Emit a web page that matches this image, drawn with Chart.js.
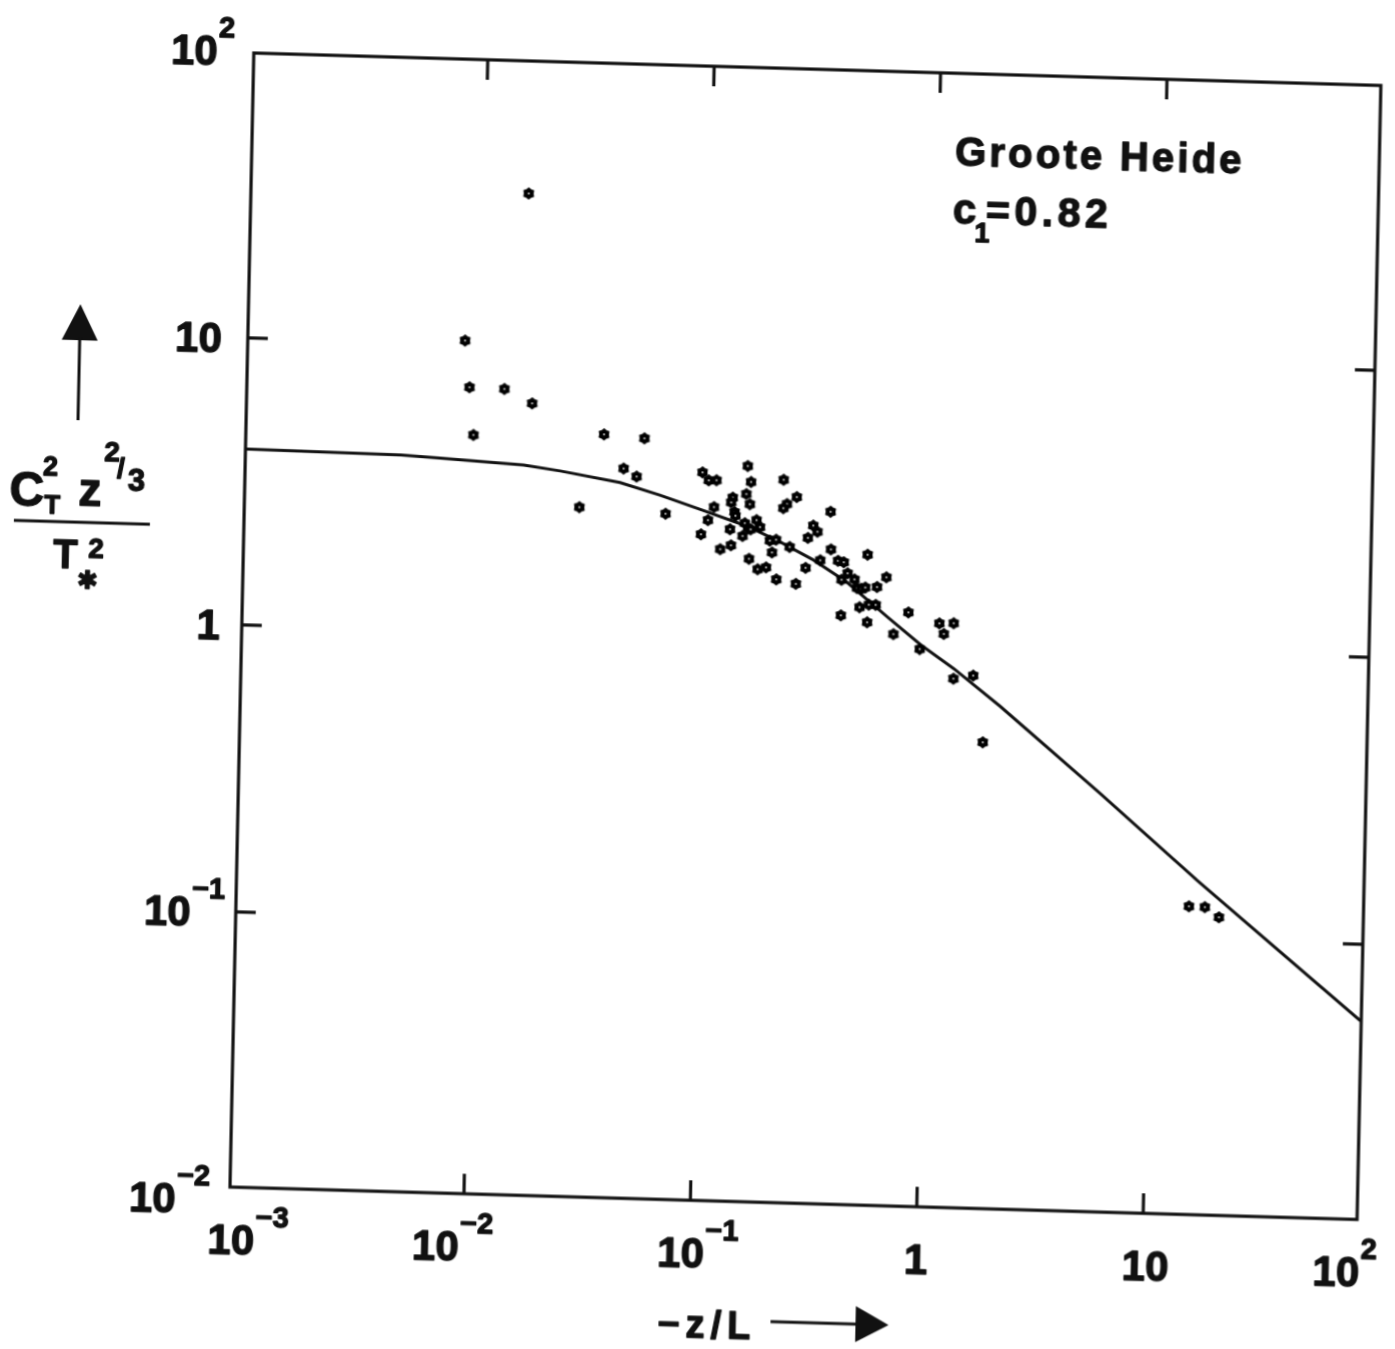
<!DOCTYPE html>
<html><head><meta charset="utf-8">
<script src="https://cdn.jsdelivr.net/npm/chart.js@4/dist/chart.umd.min.js"></script>
<style>
html,body{margin:0;padding:0;background:#fff;width:1395px;height:1349px;overflow:hidden;}
#wrap{position:absolute;left:-40px;top:0;width:1435px;height:1349px;transform-origin:270px 1187px;transform:matrix(1,0.0288,-0.021,1,0,0);}
canvas{display:block;}
</style></head><body>
<div id="wrap"><canvas id="c" width="1435" height="1349"></canvas></div>
<script>
// ---- data ----
const pointX = [0.0156,0.00843,0.0089,0.0127,0.0169,0.00936,0.0353,0.0533,0.0434,0.0496,0.0279,0.0671,
 0.0969,0.1034,0.1119,0.1533,0.1589,0.1519,0.1578,0.1324,0.1305,0.1097,0.1352,0.1366,0.1034,0.1296,0.1694,
 0.1505,0.1556,0.1598,0.1757,0.0966,0.1474,0.2213,0.2539,0.2302,0.2219,0.3591,0.302,0.3155,0.2866,0.1947,
 0.2075,0.2385,0.1179,0.1313,0.1997,0.3634,0.3266,0.3915,0.4153,0.1582,0.173,0.1884,0.2818,0.4325,0.4645,
 0.407,0.2097,0.2559,0.4775,0.4988,0.5195,0.528,0.6418,0.585,0.4917,0.5405,0.5792,0.4074,0.5328,0.8087,
 0.6976,1.111,1.285,1.164,0.9144,1.296,1.584,1.771,14.9,17.53,20.26];
const pointY = [34.0,10.3,7.09,7.05,6.32,4.84,5.01,4.90,3.83,3.60,2.78,2.69,
 3.78,3.55,3.56,4.02,3.54,3.21,2.96,3.11,2.99,2.87,2.77,2.69,2.58,2.41,2.61,
 2.54,2.44,2.42,2.47,2.30,2.29,3.63,3.17,2.99,2.89,2.84,2.53,2.41,2.29,2.22,
 2.24,2.12,2.05,2.12,2.02,2.10,1.92,1.92,1.90,1.91,1.76,1.79,1.80,1.74,1.66,
 1.65,1.63,1.58,1.55,1.54,1.56,2.03,1.70,1.57,1.33,1.36,1.36,1.24,1.18,1.29,
 1.08,1.19,1.195,1.094,0.964,0.766,0.789,0.463,0.1304,0.130,0.1202];
const curveX = [0.000926,0.0016,0.0045,0.0067,0.0157,0.0228,0.042,0.063,0.095,0.154,0.217,0.305,0.43,0.652,0.92,1.30,2.10,5.92,16.1,87.5];
const curveY = [4.10,4.09,4.05,3.99,3.85,3.70,3.42,3.12,2.81,2.48,2.20,1.92,1.62,1.24,1.00,0.83,0.62,0.315,0.161,0.0541];
const X_MIN = 9.26e-4, X_MAX = 88, Y_MIN = 0.0110, Y_MAX = 98.4;
const xTickValues = [1e-2,1e-1,1,10];
const yTickValues = [1e-1,1,10];
const xLabelValues = [1e-3,1e-2,1e-1,1,10,100];
const xLabelBase = ['10','10','10','1','10','10'];
const xLabelExp = ['\u22123','\u22122','\u22121','','','2'];
const yLabelValues = [100,10,1,0.1,0.01];
const yLabelBase = ['10','10','1','10','10'];
const yLabelExp = ['2','','','\u22121','\u22122'];
const siteName = 'Groote Heide';
const coefName = 'c', coefSub = '1', coefValue = '=0.82';

// ---- styling ----
const INK = '#111';
const FONT = '"Liberation Sans", Arial, Helvetica, sans-serif';
const xLabelShift = [-5.6,-27.5,-8.7,0,3,-32.6];
const yLabelRight = [-19,-26,-22,-11,-20];

function makeMarker(){
  const c=document.createElement('canvas'); c.width=14; c.height=14;
  const g=c.getContext('2d'); g.translate(7,7);
  g.beginPath();
  for(let i=0;i<12;i++){const r=i%2?4.9:6.3; const a=Math.PI/6*i-Math.PI/2; g.lineTo(r*Math.cos(a),r*Math.sin(a));}
  g.closePath(); g.fillStyle='#000'; g.fill();
  g.beginPath(); g.arc(0,0,0.9,0,Math.PI*2); g.fillStyle='#fff'; g.fill();
  return c;
}

function txt(ctx, s, x, y, size, opts={}){
  ctx.font = 'bold '+size+'px '+(opts.family||FONT);
  ctx.textAlign = opts.align||'left';
  ctx.textBaseline = opts.baseline||'alphabetic';
  ctx.letterSpacing = (opts.ls||0)+'px';
  ctx.fillText(s, x, y);
  ctx.lineWidth = opts.sw===undefined ? 1.3 : opts.sw;
  ctx.lineJoin = 'round';
  if(ctx.lineWidth>0) ctx.strokeText(s, x, y);
  ctx.letterSpacing = '0px';
}
function width(ctx, s, size){ ctx.font='bold '+size+'px '+FONT; ctx.letterSpacing='0px'; return ctx.measureText(s).width; }

function drawPow(ctx, x, y, base, exp, mode){
  const wb = width(ctx, base, 42);
  const we = exp ? width(ctx, exp, 29) : 0;
  const bx = mode==='right' ? x - wb - (exp ? we+1 : 0) : x - wb/2;
  txt(ctx, base, bx, y, 42);
  if(exp) txt(ctx, exp, bx+wb+1, y-28, 29);
}

const framePlugin = {
  id:'frame',
  beforeDatasetsDraw(chart){
    const {ctx, chartArea:a, scales:{x, y}} = chart;
    ctx.save();
    ctx.strokeStyle = INK; ctx.lineWidth = 3.2; ctx.lineCap='butt';
    ctx.strokeRect(a.left, a.top, a.right-a.left, a.bottom-a.top);
    ctx.beginPath();
    xTickValues.forEach(v=>{ const px=x.getPixelForValue(v);
      ctx.moveTo(px,a.bottom); ctx.lineTo(px,a.bottom-20);
      ctx.moveTo(px,a.top); ctx.lineTo(px,a.top+20); });
    yTickValues.forEach(v=>{ const py=y.getPixelForValue(v);
      ctx.moveTo(a.left,py); ctx.lineTo(a.left+20,py);
      ctx.moveTo(a.right,py); ctx.lineTo(a.right-20,py); });
    ctx.stroke();
    ctx.restore();
  },
  afterDraw(chart){
    const {ctx, chartArea:a, scales:{x, y}} = chart;
    ctx.save(); ctx.fillStyle = INK; ctx.strokeStyle = INK;
    // tick labels
    xLabelValues.forEach((v,i)=>drawPow(ctx, x.getPixelForValue(v)+xLabelShift[i], a.bottom+67, xLabelBase[i], xLabelExp[i], 'center'));
    yLabelValues.forEach((v,i)=>drawPow(ctx, a.left+yLabelRight[i], y.getPixelForValue(v)+15, yLabelBase[i], yLabelExp[i], 'right'));
    const L = a.left, B = a.bottom;
    // y title arrow
    const ax = L-168;
    ctx.beginPath(); ctx.moveTo(ax,B-878); ctx.lineTo(ax-18,B-842); ctx.lineTo(ax+18,B-842); ctx.closePath(); ctx.fill();
    ctx.lineWidth=3; ctx.beginPath(); ctx.moveTo(ax,B-845); ctx.lineTo(ax,B-762); ctx.stroke();
    // y title fraction
    txt(ctx,'C',L-235,B-675,48);
    txt(ctx,'2',L-202,B-706,27);
    txt(ctx,'T',L-200,B-668,26);
    txt(ctx,'z',L-166,B-677,46);
    txt(ctx,'2',L-141,B-722,28);
    txt(ctx,'/',L-128,B-706,28);
    txt(ctx,'3',L-117,B-693,31);
    ctx.lineWidth=3.2; ctx.beginPath(); ctx.moveTo(L-230,B-660); ctx.lineTo(L-94,B-660); ctx.stroke();
    txt(ctx,'T',L-190,B-614,40);
    txt(ctx,'2',L-155,B-625,28);
    txt(ctx,'\u2731',L-155,B-601,25,{family:'"DejaVu Sans", sans-serif',align:'center',baseline:'middle'});
    // x title
    txt(ctx,'\u2212z/L',L+430,B+137,38,{ls:6});
    ctx.lineWidth=3; ctx.beginPath(); ctx.moveTo(L+543,B+119); ctx.lineTo(L+632,B+119); ctx.stroke();
    ctx.beginPath(); ctx.moveTo(L+628,B+101); ctx.lineTo(L+661,B+119); ctx.lineTo(L+628,B+137); ctx.closePath(); ctx.fill();
    // annotation
    txt(ctx,siteName,L+703,B-1042,40,{ls:3.2});
    txt(ctx,coefName,L+702,B-984,42);
    txt(ctx,coefSub,L+724,B-966,27);
    txt(ctx,coefValue,L+735,B-984,41,{ls:4.5});
    ctx.restore();
  }
};

const marker = makeMarker();
new Chart(document.getElementById('c').getContext('2d'), {
  type:'scatter',
  data:{datasets:[
    {data: curveX.map((v,i)=>({x:v,y:curveY[i]})), showLine:true, borderColor:INK, borderWidth:3, pointRadius:0, tension:0, fill:false, order:2},
    {data: pointX.map((v,i)=>({x:v,y:pointY[i]})), pointStyle:marker, pointRadius:7, order:1}
  ]},
  options:{
    responsive:false, animation:false, devicePixelRatio:1,
    layout:{padding:{left:270, top:53, right:38, bottom:162}},
    plugins:{legend:{display:false}, tooltip:{enabled:false}},
    scales:{
      x:{type:'logarithmic', min:X_MIN, max:X_MAX, display:false},
      y:{type:'logarithmic', min:Y_MIN, max:Y_MAX, display:false}
    }
  },
  plugins:[framePlugin]
});
</script>
</body></html>
